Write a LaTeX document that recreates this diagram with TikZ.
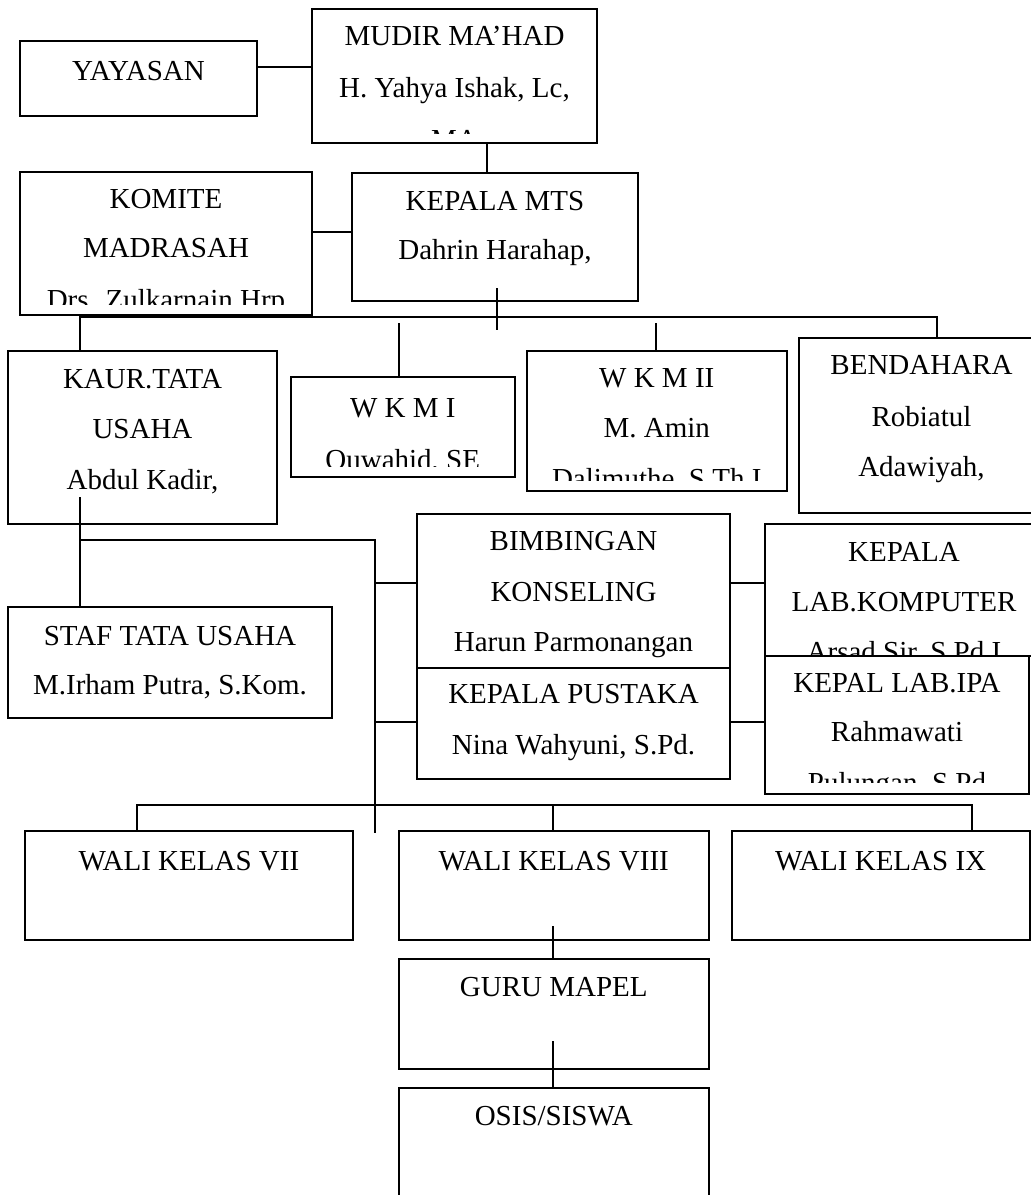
\documentclass[tikz,border=0pt]{standalone}
\usepackage{fontspec}
\setmainfont{Liberation Serif}
\usetikzlibrary{fit}
\begin{document}
\begin{tikzpicture}[x=0.5pt,y=-0.5pt,
  boxst/.style={draw, line width=1pt, inner sep=0pt, fill=white},
  conn/.style={line width=0.95pt},
  txt/.style={anchor=base, inner sep=0pt, font=\fontsize{14.5}{17}\selectfont}]
\useasboundingbox (0,0) rectangle (1031,1195);
\clip (0,0) rectangle (1031,1195);

% ---------- boxes ----------
\node[boxst, fit={(20,41) (257,116)}] (yay) {};
\node[txt] (yay1) at (yay.center |- 0,80) {YAYASAN};

\node[boxst, fit={(312,9) (597,143)}] (mudir) {};
\begin{scope}
\clip (mudir.north west) rectangle (mudir.east |- 0,133);
\node[txt] (mudir1) at (mudir.center |- 0,45) {MUDIR MA’HAD};
\node[txt] (mudir2) at (mudir.center |- 0,97) {H. Yahya Ishak, Lc,};
\node[txt] (mudir3) at (mudir.center |- 0,149) {MA};
\end{scope}

\node[boxst, fit={(20,172) (312,315)}] (kom) {};
\begin{scope}
\clip (kom.north west) rectangle (kom.east |- 0,304);
\node[txt] (kom1) at (kom.center |- 0,208) {KOMITE};
\node[txt] (kom2) at (kom.center |- 0,257) {MADRASAH};
\node[txt] (kom3) at (kom.center |- 0,309) {Drs. Zulkarnain Hrp};
\end{scope}

\node[boxst, fit={(352,173) (638,301)}] (mts) {};
\node[txt] (mts1) at (mts.center |- 0,210) {KEPALA MTS};
\node[txt] (mts2) at (mts.center |- 0,259) {Dahrin Harahap,};

\node[boxst, fit={(8,351) (277,524)}] (kaur) {};
\node[txt] (kaur1) at (kaur.center |- 0,388) {KAUR.TATA};
\node[txt] (kaur2) at (kaur.center |- 0,438.5) {USAHA};
\node[txt] (kaur3) at (kaur.center |- 0,489) {Abdul Kadir,};

\node[boxst, fit={(290.5,377) (515,477)}] (wkm1) {};
\begin{scope}
\clip (wkm1.north west) rectangle (wkm1.east |- 0,466);
\node[txt] (wkm1a) at (wkm1.center |- 0,417) {W K M I};
\node[txt] (wkm1b) at (wkm1.center |- 0,469.5) {Ouwahid, SE};
\end{scope}

\node[boxst, fit={(526.5,351) (787,491)}] (wkm2) {};
\begin{scope}
\clip (wkm2.north west) rectangle (wkm2.east |- 0,480);
\node[txt] (wkm2a) at (wkm2.center |- 0,387) {W K M II};
\node[txt] (wkm2b) at (wkm2.center |- 0,437.5) {M. Amin};
\node[txt] (wkm2c) at (wkm2.center |- 0,488.5) {Dalimuthe, S.Th.I};
\end{scope}

\node[boxst, fit={(799,338) (1044,513)}] (bend) {};
\node[txt] (bend1) at (bend.center |- 0,374.3) {BENDAHARA};
\node[txt] (bend2) at (bend.center |- 0,426) {Robiatul};
\node[txt] (bend3) at (bend.center |- 0,476.7) {Adawiyah,};

\node[boxst, fit={(417,514) (730,668)}] (bimb) {};
\node[txt] (bimb1) at (bimb.center |- 0,550) {BIMBINGAN};
\node[txt] (bimb2) at (bimb.center |- 0,601) {KONSELING};
\node[txt] (bimb3) at (bimb.center |- 0,651.5) {Harun Parmonangan};

\node[boxst, fit={(417,668) (730,779)}] (pust) {};
\node[txt] (pust1) at (pust.center |- 0,703) {KEPALA PUSTAKA};
\node[txt] (pust2) at (pust.center |- 0,754) {Nina Wahyuni, S.Pd.};

\node[boxst, fit={(765,524) (1043,656)}] (labkom) {};
\begin{scope}
\clip (labkom.north west) rectangle (labkom.east |- 0,655);
\node[txt] (labkom1) at (labkom.center |- 0,561) {KEPALA};
\node[txt] (labkom2) at (labkom.center |- 0,611) {LAB.KOMPUTER};
\node[txt] (labkom3) at (labkom.center |- 0,661) {Arsad Sir, S.Pd.I};
\end{scope}

\node[boxst, fit={(765,656) (1029,794)}] (ipa) {};
\begin{scope}
\clip (ipa.north west) rectangle (ipa.east |- 0,782.7);
\node[txt] (ipa1) at (ipa.center |- 0,692.5) {KEPAL LAB.IPA};
\node[txt] (ipa2) at (ipa.center |- 0,741.7) {Rahmawati};
\node[txt] (ipa3) at (ipa.center |- 0,792) {Pulungan, S.Pd};
\end{scope}

\node[boxst, fit={(8,607) (332,718)}] (staf) {};
\node[txt] (staf1) at (staf.center |- 0,645) {STAF TATA USAHA};
\node[txt] (staf2) at (staf.center |- 0,694) {M.Irham Putra, S.Kom.};

\node[boxst, fit={(25,831) (352.7,940)}] (w7) {};
\node[txt] (w7a) at (w7.center |- 0,870) {WALI KELAS VII};
\node[boxst, fit={(398.5,831) (709,939.5)}] (w8) {};
\node[txt] (w8a) at (w8.center |- 0,870) {WALI KELAS VIII};
\node[boxst, fit={(731.6,831) (1029.6,940)}] (w9) {};
\node[txt] (w9a) at (w9.center |- 0,870) {WALI KELAS IX};

\node[boxst, fit={(398.5,959) (709,1069.3)}] (guru) {};
\node[txt] (guru1) at (guru.center |- 0,996.5) {GURU MAPEL};
\node[boxst, fit={(398.5,1088.3) (709,1215)}] (osis) {};
\node[txt] (osis1) at (osis.center |- 0,1125.7) {OSIS/SISWA};

% ---------- connectors ----------
\coordinate (mtsstub) at (497,288);
\coordinate (busA) at (80,317);
\coordinate (busB) at (937,317);
\coordinate (wkm1top) at (398.6,323);
\coordinate (wkm2top) at (656,323);
\coordinate (kaurin) at (80,497);
\coordinate (tuA) at (80,540);
\coordinate (tuB) at (375,540);
\coordinate (tuC) at (375,833);
\coordinate (bus2A) at (137,805);
\coordinate (bus2B) at (972,805);
\coordinate (w8in) at (552.7,926);
\coordinate (guruin) at (552.7,1041);

\draw[conn] (yay.east |- 0,66.7) -- (mudir.west |- 0,66.7);
\draw[conn] (mudir.south -| 487,0) -- (mts.north -| 487,0);
\draw[conn] (kom.east |- 0,232) -- (mts.west |- 0,232);
\draw[conn] (mtsstub) -- (497,330);
\draw[conn] (kaur.north -| busA) -- (busA) -- (busB) -- (bend.north -| busB);
\draw[conn] (wkm1top) -- (wkm1.north -| wkm1top);
\draw[conn] (wkm2top) -- (wkm2.north -| wkm2top);
\draw[conn] (kaurin) -- (staf.north -| kaurin);
\draw[conn] (tuA) -- (tuB) -- (tuC);
\draw[conn] (tuB |- 0,583.3) -- (bimb.west |- 0,583.3);
\draw[conn] (tuB |- 0,721.7) -- (pust.west |- 0,721.7);
\draw[conn] (bimb.east |- 0,583.3) -- (labkom.west |- 0,583.3);
\draw[conn] (pust.east |- 0,721.7) -- (ipa.west |- 0,721.7);
\draw[conn] (w7.north -| bus2A) -- (bus2A) -- (bus2B) -- (w9.north -| bus2B);
\draw[conn] (552.6,805) -- (w8.north -| 552.6,0);
\draw[conn] (w8in) -- (guru.north -| w8in);
\draw[conn] (guruin) -- (osis.north -| guruin);
\end{tikzpicture}
\end{document}
